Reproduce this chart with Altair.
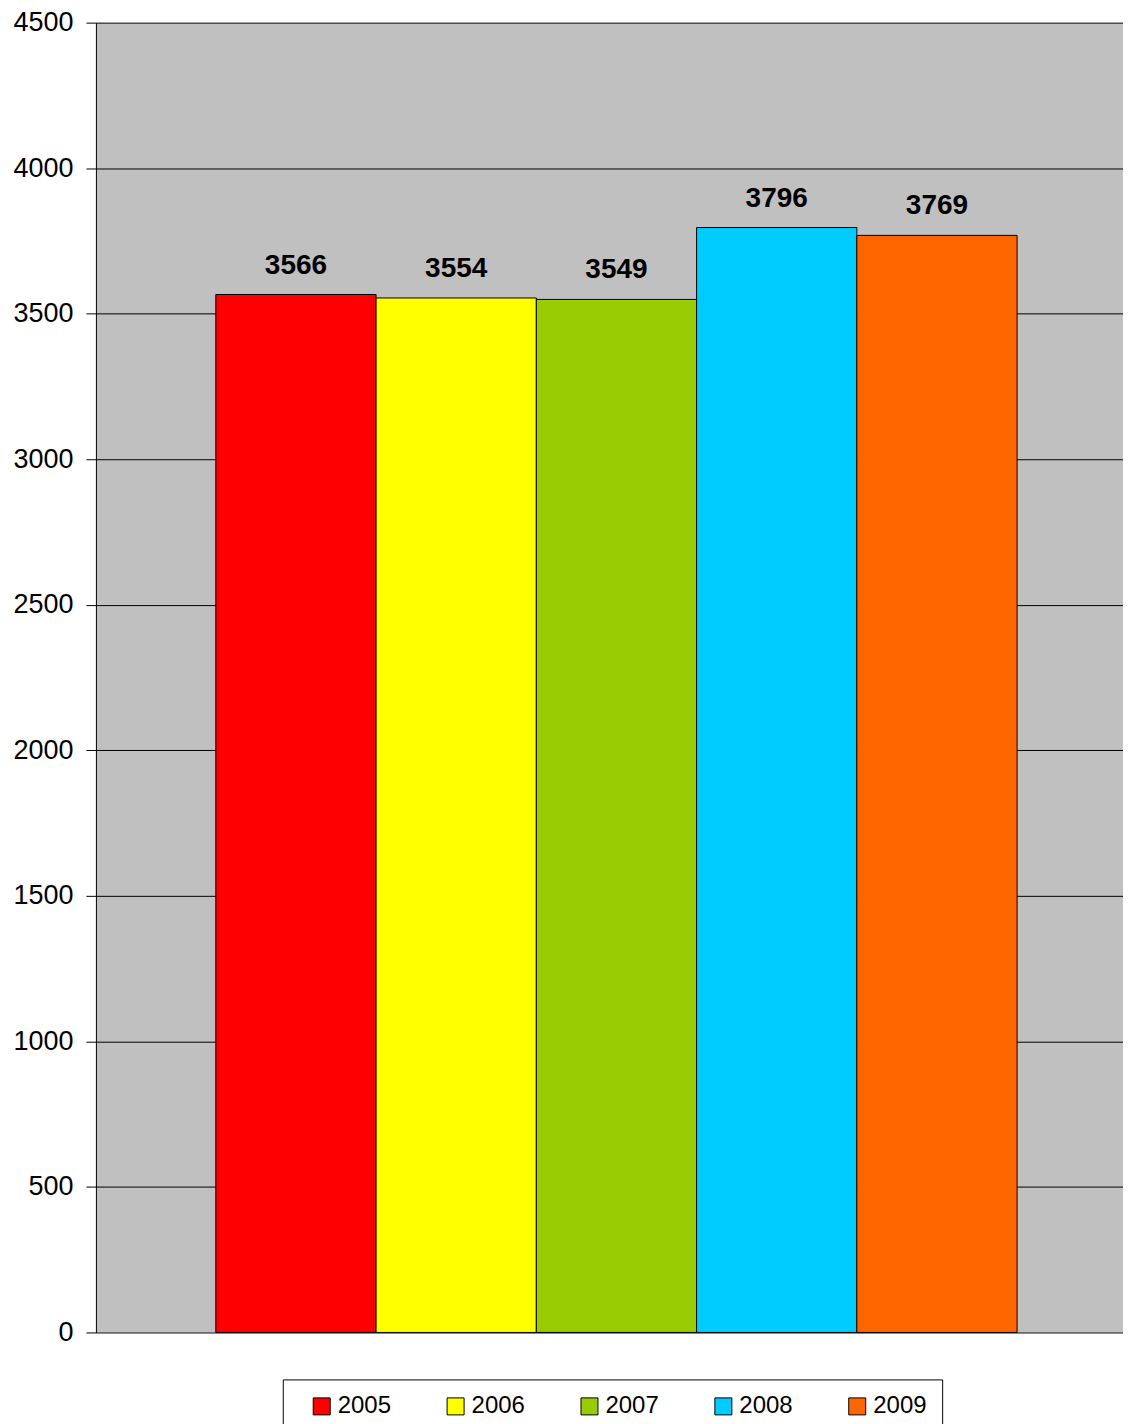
import altair as alt
import pandas as pd

years = ["2005", "2006", "2007", "2008", "2009"]
values = [3566, 3554, 3549, 3796, 3769]
colors = ["#FF0000", "#FFFF00", "#99CC00", "#00CCFF", "#FF6600"]
y_ticks = [0, 500, 1000, 1500, 2000, 2500, 3000, 3500, 4000, 4500]

df = pd.DataFrame({"year": years, "value": values})

FONT = "Liberation Sans"

x_enc = alt.X(
    "year:N",
    sort=years,
    scale=alt.Scale(paddingInner=0, paddingOuter=0.7045, align=0.531),
    axis=alt.Axis(labels=False, ticks=False, title=None, domainColor="#808080", grid=False),
)

bars = alt.Chart(df).mark_bar(stroke="black", strokeWidth=1, opacity=1).encode(
    x=x_enc,
    y=alt.Y(
        "value:Q",
        scale=alt.Scale(domain=[0, 4500], nice=False, zero=True),
        axis=alt.Axis(
            values=y_ticks,
            format="d",
            title=None,
            grid=True,
            gridColor="black",
            gridWidth=1,
            gridOpacity=1,
            tickColor="black",
            tickSize=10,
            domainColor="black",
            labelFont=FONT,
            labelFontSize=27,
            labelColor="black",
            labelPadding=13,
        ),
    ),
    color=alt.Color(
        "year:N",
        sort=years,
        scale=alt.Scale(domain=years, range=colors),
        legend=alt.Legend(
            title=None,
            orient="none",
            legendX=187,
            legendY=1358,
            direction="horizontal",
            columns=5,
            symbolType="square",
            symbolSize=289,
            symbolStrokeColor="black",
            symbolStrokeWidth=1,
            symbolOpacity=1,
            symbolOffset=12,
            labelFont=FONT,
            labelFontSize=24,
            labelColor="black",
            labelOffset=4,
            columnPadding=40,
            padding=15,
            strokeColor="black",
            fillColor="white",
        ),
    ),
)

labels = alt.Chart(df).mark_text(
    font=FONT, fontSize=28, fontWeight="bold", color="black", baseline="alphabetic", dy=-21
).encode(
    x=alt.X("year:N", sort=years),
    y=alt.Y("value:Q"),
    text=alt.Text("value:Q"),
)

chart = (
    alt.layer(bars, labels)
    .properties(
        width=1028,
        height=1311,
        padding={"left": 4, "top": 0, "right": 0, "bottom": 0},
        view=alt.ViewBackground(fill="#C0C0C0", stroke="transparent"),
    )
    .configure(background="white")
)

chart.save("out.html", embed_options={"renderer": "svg", "actions": False})
